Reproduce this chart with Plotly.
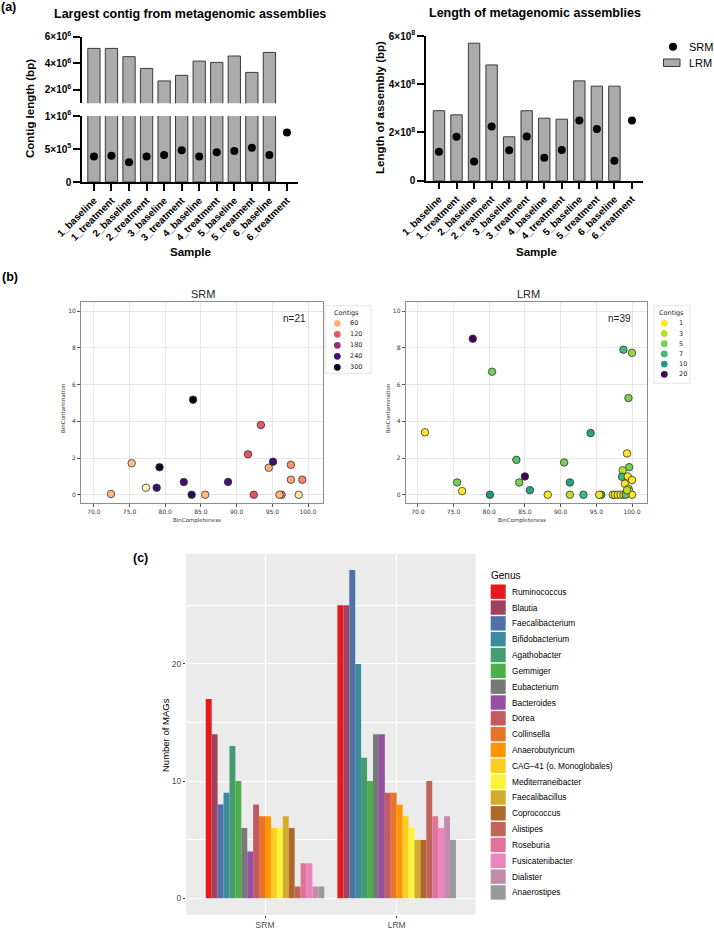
import plotly.graph_objects as go
import plotly.express as px

W, H = 714, 929
ARIAL = "Liberation Sans, Arial, sans-serif"
DEJAVU = "DejaVu Sans, sans-serif"

# ---------- (a) assemblies ----------
samples = ['1_baseline', '1_treatment', '2_baseline', '2_treatment', '3_baseline', '3_treatment',
           '4_baseline', '4_treatment', '5_baseline', '5_treatment', '6_baseline', '6_treatment']
lrm_largest = [5.12e6, 5.12e6, 4.5e6, 3.62e6, 2.68e6, 3.1e6, 4.17e6, 4.07e6, 4.55e6, 3.32e6, 4.82e6, None]
srm_largest = [3.88e5, 3.98e5, 3.0e5, 3.88e5, 4.1e5, 4.8e5, 3.88e5, 4.5e5, 4.7e5, 5.2e5, 4.1e5, 7.5e5]
lrm_total = [2.9e8, 2.73e8, 5.7e8, 4.8e8, 1.82e8, 2.9e8, 2.59e8, 2.55e8, 4.14e8, 3.92e8, 3.92e8, None]
srm_total = [1.2e8, 1.82e8, 0.8e8, 2.25e8, 1.26e8, 1.83e8, 0.95e8, 1.27e8, 2.5e8, 2.14e8, 0.83e8, 2.5e8]

# ---------- (b) bins ----------
srm_completeness = [72.4, 75.3, 77.3, 78.8, 79.2, 82.6, 83.9, 83.7, 85.6, 88.8, 91.6, 92.4, 93.4, 94.5,
                    95.1, 96.3, 96.0, 97.6, 97.6, 99.2, 98.7]
srm_contamination = [0.04, 1.72, 0.38, 0.38, 1.5, 0.69, 5.18, 0.0, 0.0, 0.7, 2.2, 0.0, 3.8, 1.47,
                     1.8, 0.0, 0.0, 1.63, 0.82, 0.82, 0.0]
srm_contigs = [55, 50, 15, 250, 290, 245, 310, 265, 55, 240, 125, 125, 120, 60,
               250, 95, 55, 80, 65, 85, 25]
srm_legend = [60, 120, 180, 240, 300]

lrm_completeness = [71.0, 75.5, 76.2, 77.7, 80.1, 80.4, 83.8, 84.2, 85.0, 85.7, 88.2, 90.5, 91.3, 91.3,
                    93.2, 94.2, 95.7, 95.4, 98.8, 100.0, 99.5, 99.3, 99.6, 98.7, 98.6, 99.4, 99.0, 100.0,
                    99.5, 99.6, 99.2, 97.3, 97.6, 98.0, 98.4, 98.8, 100.0, 99.1, 99.3]
lrm_contamination = [3.4, 0.67, 0.2, 8.5, 0.0, 6.7, 1.9, 0.67, 1.0, 0.25, 0.0, 1.76, 0.67, 0.0,
                     0.0, 3.36, 0.0, 0.0, 7.9, 7.73, 5.27, 2.25, 1.5, 1.33, 0.98, 1.0, 0.6, 0.8,
                     0.33, 0.2, 0.1, 0.0, 0.0, 0.0, 0.0, 0.0, 0.0, 0.0, 0.25]
lrm_contigs = [1, 5, 1, 20, 10, 5, 6, 5, 20, 9, 1, 5, 9, 3,
               7, 9, 8, 1, 7, 4, 5, 1, 5, 3, 7, 1, 1, 1,
               1, 1, 5, 1, 1, 1, 1, 1, 1, 6, 3]
lrm_legend = [1, 3, 5, 7, 10, 20]

# ---------- (c) MAGs per genus ----------
genera = ['Ruminococcus', 'Blautia', 'Faecalibacterium', 'Bifidobacterium', 'Agathobacter', 'Gemmiger',
          'Eubacterium', 'Bacteroides', 'Dorea', 'Collinsella', 'Anaerobutyricum',
          'CAG–41 (o. Monoglobales)', 'Mediterraneibacter', 'Faecalibacillus', 'Coprococcus',
          'Alistipes', 'Roseburia', 'Fusicatenibacter', 'Dialister', 'Anaerostipes']
genus_colors = ['#E41A1C', '#A0425F', '#5070A8', '#3C8A9D', '#449C6E', '#4DAF4A', '#787878', '#984EA3',
                '#C05B62', '#E9732A', '#FF9300', '#FFCC1F', '#F9F33A', '#D4AC2D', '#AF6829',
                '#C1645A', '#E0739A', '#ED84BD', '#C38BAA', '#999999']
srm_mags = [17, 14, 8, 9, 13, 10, 6, 4, 8, 7, 7, 6, 6, 7, 6, 1, 3, 3, 1, 1]
lrm_mags = [25, 25, 28, 20, 12, 10, 14, 14, 9, 9, 8, 7, 6, 5, 5, 10, 7, 6, 7, 5]
groups = ['SRM', 'LRM']


def fx(p):
    return p / W


def fy(p):
    return 1 - p / H


def ramp(colors, v, lo, hi):
    t = min(max((v - lo) / (hi - lo), 0), 1)
    pos = t * (len(colors) - 1)
    i = min(int(pos), len(colors) - 2)
    f = pos - i
    a = [int(colors[i][k:k + 2], 16) for k in (1, 3, 5)]
    b = [int(colors[i + 1][k:k + 2], 16) for k in (1, 3, 5)]
    return 'rgb(%d,%d,%d)' % tuple(round(a[k] + (b[k] - a[k]) * f) for k in range(3))


def magma(v):
    return ramp(px.colors.sequential.Magma_r, v, 10, 310)


def viridis(v):
    return ramp(px.colors.sequential.Viridis_r, v, 1, 20)


def note(x, y, text, size, family=ARIAL, color='black', bold=False, xanchor='center', angle=0):
    return dict(x=fx(x), y=fy(y), xref='paper', yref='paper', text=text, showarrow=False,
                font=dict(family=family, size=size, color=color, weight='bold' if bold else 'normal'),
                xanchor=xanchor, yanchor='middle', textangle=angle)


def rect(x0, y0, x1, y1, fill, line_color=None, line_width=0):
    return dict(type='rect', xref='paper', yref='paper', x0=fx(x0), x1=fx(x1), y0=fy(y1), y1=fy(y0),
                fillcolor=fill, line=dict(color=line_color or fill, width=line_width), layer='above')


def circle(cx, cy, r, fill):
    return dict(type='circle', xref='paper', yref='paper', x0=fx(cx - r), x1=fx(cx + r),
                y0=fy(cy + r), y1=fy(cy - r), fillcolor=fill, line=dict(width=0), layer='above')


fig = go.Figure()

bar_style = dict(color='#ABABAB', line=dict(color='#3A3A3A', width=1))
dot_style = dict(color='black', size=8)

# (a) left, broken axis: same bars on bottom and top segment
fig.add_trace(go.Bar(x=samples, y=lrm_largest, width=0.7, marker=bar_style, xaxis='x', yaxis='y'))
fig.add_trace(go.Bar(x=samples, y=lrm_largest, width=0.7, marker=bar_style, xaxis='x', yaxis='y2'))
fig.add_trace(go.Scatter(x=samples, y=srm_largest, mode='markers', marker=dot_style, xaxis='x', yaxis='y'))

# (a) right
fig.add_trace(go.Bar(x=samples, y=lrm_total, width=0.65, marker=bar_style, xaxis='x2', yaxis='y3'))
fig.add_trace(go.Scatter(x=samples, y=srm_total, mode='markers', marker=dot_style, xaxis='x2', yaxis='y3'))

# (b)
fig.add_trace(go.Scatter(x=srm_completeness, y=srm_contamination, mode='markers', xaxis='x3', yaxis='y4',
                         marker=dict(size=7.5, color=[magma(v) for v in srm_contigs],
                                     line=dict(color='#333333', width=0.8))))
fig.add_trace(go.Scatter(x=lrm_completeness, y=lrm_contamination, mode='markers', xaxis='x4', yaxis='y5',
                         marker=dict(size=7.5, color=[viridis(v) for v in lrm_contigs],
                                     line=dict(color='#333333', width=0.8))))

# (c)
for g, c, s, l in zip(genera, genus_colors, srm_mags, lrm_mags):
    fig.add_trace(go.Bar(x=groups, y=[s, l], name=g, marker=dict(color=c, line=dict(width=0)),
                         xaxis='x5', yaxis='y6'))

a_ax = dict(showgrid=False, zeroline=False, showline=True, linecolor='black', linewidth=1.5,
            ticks='outside', ticklen=7, tickwidth=1.5, tickcolor='black', automargin=False,
            tickfont=dict(family=ARIAL, size=10, color='black', weight='bold'))
b_ax = dict(showgrid=True, gridcolor='#E6E6E6', gridwidth=0.8, zeroline=False, showline=True, mirror=True,
            linecolor='#8C8C8C', linewidth=1, ticks='outside', ticklen=3, tickwidth=0.8, tickcolor='#555555',
            automargin=False, tickfont=dict(family=DEJAVU, size=6, color='#333333'))
c_ax = dict(showgrid=True, gridcolor='white', gridwidth=1.1, zeroline=False, showline=False,
            ticks='outside', ticklen=2, tickwidth=0.8, tickcolor='#333333', automargin=False,
            tickfont=dict(family=ARIAL, size=8.5, color='#4D4D4D'))

fig.update_layout(
    width=W, height=H, margin=dict(l=0, r=0, t=0, b=0),
    paper_bgcolor='white', plot_bgcolor='white', showlegend=False,
    barmode='group', bargap=0.1, bargroupgap=0,
    font=dict(family=ARIAL, color='black'),
    xaxis=dict(a_ax, domain=[fx(82), fx(298)], anchor='y', type='category', range=[-0.68, 11.63],
               tickangle=-45),
    yaxis=dict(a_ax, domain=[fy(182), fy(116)], anchor='x', range=[0, 1e6],
               tickvals=[0, 5e5, 1e6], ticktext=['0', '5×10<sup>5</sup>', '1×10<sup>6</sup>']),
    yaxis2=dict(a_ax, domain=[fy(103.3), fy(36.7)], anchor='x', range=[1e6, 6e6],
                tickvals=[2e6, 4e6, 6e6], ticktext=['2×10<sup>6</sup>', '4×10<sup>6</sup>', '6×10<sup>6</sup>']),
    xaxis2=dict(a_ax, domain=[fx(426), fx(643)], anchor='y3', type='category', range=[-0.74, 11.63],
                tickangle=-45),
    yaxis3=dict(a_ax, domain=[fy(180.7), fy(36)], anchor='x2', range=[0, 6e8],
                tickvals=[0, 2e8, 4e8, 6e8],
                ticktext=['0', '2×10<sup>8</sup>', '4×10<sup>8</sup>', '6×10<sup>8</sup>']),
    xaxis3=dict(b_ax, domain=[fx(81), fx(323)], anchor='y4', range=[68.2, 102.1],
                tickvals=list(range(70, 101, 5)), tickformat='.1f'),
    yaxis4=dict(b_ax, domain=[fy(503), fy(302)], anchor='x3', range=[-0.45, 10.5],
                tickvals=[0, 2, 4, 6, 8, 10]),
    xaxis4=dict(b_ax, domain=[fx(405.7), fx(647)], anchor='y5', range=[68.3, 102.1],
                tickvals=list(range(70, 101, 5)), tickformat='.1f'),
    yaxis5=dict(b_ax, domain=[fy(503), fy(302)], anchor='x4', range=[-0.45, 10.5],
                tickvals=[0, 2, 4, 6, 8, 10]),
    xaxis5=dict(c_ax, domain=[fx(186), fx(475.7)], anchor='y6', type='category', range=[-0.6, 1.6]),
    yaxis6=dict(c_ax, domain=[fy(914.7), fy(553.7)], anchor='x5', range=[-1.4, 29.4],
                tick0=0, dtick=10,
                minor=dict(tick0=0, dtick=5, showgrid=True, gridcolor='white', gridwidth=0.5, ticks='')),
)

shapes = [dict(type='rect', xref='x5 domain', yref='y6 domain', x0=0, x1=1, y0=0, y1=1,
               fillcolor='#EBEBEB', line=dict(width=0), layer='below')]

annotations = [
    note(8, 7, '(a)', 12.5, bold=True),
    note(10, 277, '(b)', 12.5, bold=True),
    note(140, 558, '(c)', 12.5, bold=True),
    note(190, 14, 'Largest contig from metagenomic assemblies', 12.5, bold=True),
    note(535, 13, 'Length of metagenomic assemblies', 12.5, bold=True),
    note(30, 109, 'Contig length (bp)', 11.5, bold=True, angle=-90),
    note(380, 108, 'Length of assembly (bp)', 11.5, bold=True, angle=-90),
    note(190, 252, 'Sample', 11.5, bold=True),
    note(536, 252, 'Sample', 11.5, bold=True),
    note(203, 294, 'SRM', 11, color='#222222'),
    note(528, 294, 'LRM', 11, color='#222222'),
    note(294.5, 318, 'n=21', 10, color='#222222'),
    note(619, 318, 'n=39', 10, color='#222222'),
    note(197, 520, 'BinCompleteness', 5.5, family=DEJAVU, color='#333333'),
    note(63, 408, 'BinContamination', 5.5, family=DEJAVU, color='#333333', angle=-90),
    note(522, 520, 'BinCompleteness', 5.5, family=DEJAVU, color='#333333'),
    note(388, 408, 'BinContamination', 5.5, family=DEJAVU, color='#333333', angle=-90),
    note(165, 735, 'Number of MAGs', 9.5, angle=-90),
]

# (a) legend
shapes.append(circle(673, 46.7, 4, 'black'))
shapes.append(rect(663.5, 59, 680, 66.5, '#ABABAB', '#3A3A3A', 1))
annotations.append(note(687, 46.7, 'SRM', 11, xanchor='left'))
annotations.append(note(687, 62.7, 'LRM', 11, xanchor='left'))

# (b) legends
shapes.append(rect(325, 305.7, 371, 373.3, 'white', '#DDDDDD', 0.8))
annotations.append(note(332, 312.7, 'Contigs', 6.5, family=DEJAVU, color='#222222', xanchor='left'))
for i, v in enumerate(srm_legend):
    cy = 323.3 + 11 * i
    shapes.append(circle(337.3, cy, 3.4, magma(v)))
    annotations.append(note(348, cy, str(v), 6.5, family=DEJAVU, color='#222222', xanchor='left'))

shapes.append(rect(654, 305.7, 690, 383.3, 'white', '#DDDDDD', 0.8))
annotations.append(note(657, 312.7, 'Contigs', 6.5, family=DEJAVU, color='#222222', xanchor='left'))
for i, v in enumerate(lrm_legend):
    cy = 323.3 + 10.2 * i
    shapes.append(circle(664.3, cy, 3.4, viridis(v)))
    annotations.append(note(676.5, cy, str(v), 6.5, family=DEJAVU, color='#222222', xanchor='left'))

# (c) legend
annotations.append(note(489, 575, 'Genus', 10, xanchor='left'))
for i, (g, c) in enumerate(zip(genera, genus_colors)):
    cy = 591.7 + 15.83 * i
    shapes.append(rect(490.7, cy - 7.2, 505.7, cy + 7.2, c))
    annotations.append(note(510, cy, g, 8.3, xanchor='left'))

fig.update_layout(shapes=shapes, annotations=annotations)

# page has a default 8px body margin; drop it so the figure fills the window
fig.write_html("out.html", config={'displayModeBar': False},
               post_script="document.body.style.margin='0';document.body.style.overflow='hidden';")
